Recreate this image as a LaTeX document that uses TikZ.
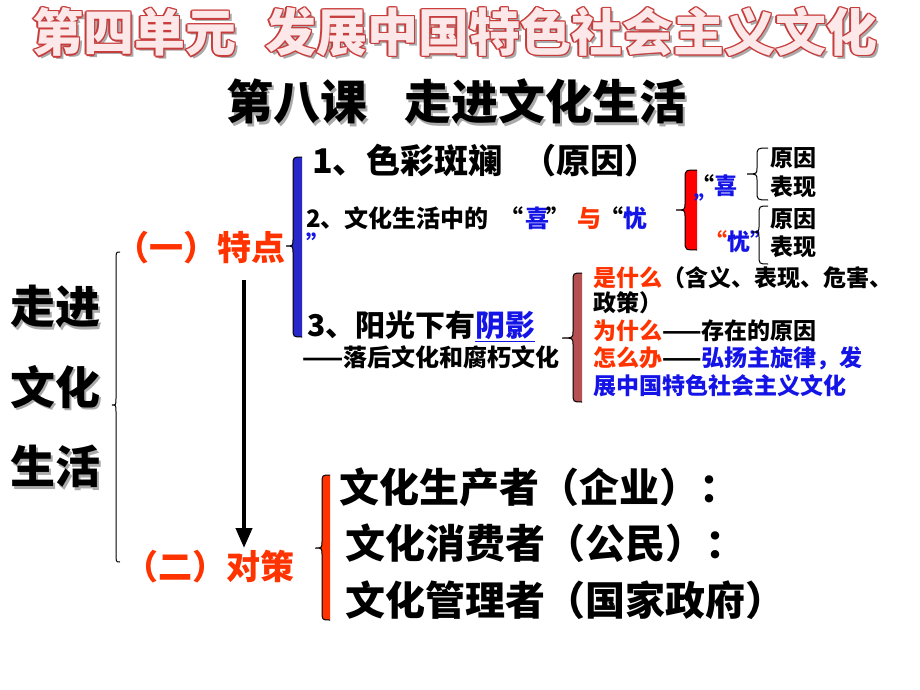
\documentclass[tikz,border=0pt]{standalone}
\usepackage{fontspec}
\setmainfont{Noto Sans CJK SC}
\usepackage{tikz}
\usetikzlibrary{arrows.meta}
\definecolor{hotred}{RGB}{255,51,0}
\definecolor{qblue}{RGB}{20,20,230}
\definecolor{braceblue}{RGB}{40,40,200}
\definecolor{bracered}{RGB}{255,0,0}
\definecolor{bracebrown}{RGB}{180,80,80}
\definecolor{titlered}{RGB}{200,60,60}
\definecolor{titlepink}{RGB}{252,232,232}
\definecolor{shadowgray}{RGB}{170,170,170}

% text with a grey drop shadow
\newcommand{\shadowed}[1]{\rlap{\hspace{2.5pt}\raisebox{-2.5pt}{\textcolor{shadowgray}{#1}}}#1}
% hollow title letters: red outline, pale fill, grey shadow
\newcommand{\hollow}[1]{%
  \rlap{\hspace{3pt}\raisebox{-3pt}{\textcolor{shadowgray}{#1}}}%
  \rlap{\hspace{-1.3pt}\textcolor{titlered}{#1}}%
  \rlap{\hspace{1.3pt}\textcolor{titlered}{#1}}%
  \rlap{\raisebox{1.3pt}{\textcolor{titlered}{#1}}}%
  \rlap{\raisebox{-1.3pt}{\textcolor{titlered}{#1}}}%
  \rlap{\hspace{-0.9pt}\raisebox{0.9pt}{\textcolor{titlered}{#1}}}%
  \rlap{\hspace{0.9pt}\raisebox{0.9pt}{\textcolor{titlered}{#1}}}%
  \rlap{\hspace{-0.9pt}\raisebox{-0.9pt}{\textcolor{titlered}{#1}}}%
  \rlap{\hspace{0.9pt}\raisebox{-0.9pt}{\textcolor{titlered}{#1}}}%
  \textcolor{titlepink}{#1}}
% curly brace: tip x, body x, end x, top y, tip y, bottom y, fill
\newcommand{\curlybrace}[7]{%
  \fill[#7] (#3,#4) .. controls (#2,#4) .. (#2,{#4+9}) -- (#2,{#5-7}) .. controls (#2,#5) .. (#1,#5)
    .. controls (#2,#5) .. (#2,{#5+7}) -- (#2,{#6-9}) .. controls (#2,#6) .. (#3,#6) -- cycle;
  \draw[brace line] (#3,#4) .. controls (#2,#4) .. (#2,{#4+9}) -- (#2,{#5-7}) .. controls (#2,#5) .. (#1,#5)
    .. controls (#2,#5) .. (#2,{#5+7}) -- (#2,{#6-9}) .. controls (#2,#6) .. (#3,#6);
}

\begin{document}
\begin{tikzpicture}[x=1pt, y=-1pt,
    every node/.style={inner sep=0pt, anchor=west},
    fs/.style={font=\fontsize{#1}{#1}\selectfont\bfseries},
    brace line/.style={line width=1pt, black},
    down arrow/.style={line width=4pt, -{Triangle[width=16pt,length=20pt]}}]
  \useasboundingbox (0,0) rectangle (920,690);

  % titles
  \node[fs=51] (unit) at (32,33) {\hollow{第四单元}};
  \node[fs=51] (unit title) at (265,33) {\hollow{发展中国特色社会主义文化}};
  \node[fs=47] (lesson) at (226,103) {\shadowed{第八课}};
  \node[fs=47] (lesson title) at (404,103) {\shadowed{走进文化生活}};

  % left column
  \node[fs=45] (zoujin) at (10,308) {\shadowed{走进}};
  \node[fs=45] (wenhua) at (10,388) {\shadowed{文化}};
  \node[fs=45] (shenghuo) at (10,468) {\shadowed{生活}};
  \curlybrace{112}{116}{120}{252}{405}{562}{fill=none}

  \node[fs=34, text=hotred] (tedian) at (115,248) {（一）特点};
  \node[fs=34, text=hotred] (duice) at (124,567) {（二）对策};
  \coordinate (arrow top) at (244,280);
  \coordinate (arrow tip) at (244,548);
  \draw[down arrow] (arrow top) -- (arrow tip);

  % features
  \curlybrace{286}{293}{302}{157}{246}{337}{fill=braceblue}
  \node[fs=34] (item one) at (312,161) {1、色彩斑斓\hspace{20pt}（原因）};
  \node[fs=24] (item two) at (306,218) {2、文化生活中的\hspace{11pt}“\hspace{2pt}\textcolor{qblue}{喜}\hspace{-3pt}”\hspace{7pt}\textcolor{hotred}{与}\hspace{-2pt}“\textcolor{qblue}{忧}};
  \node[fs=24, text=qblue] (item two end) at (306,243) {”};
  \node[fs=30] (item three) at (307,326) {3、阳光下有\textcolor{qblue}{\underline{阴影}}};
  \node[fs=24] (item three note) at (302,357) {——落后文化和腐朽文化};

  % joy and worry
  \curlybrace{676}{685}{697}{170}{210}{250}{fill=bracered}
  \node[fs=23] (xi) at (691,186) {“\textcolor{qblue}{喜}};
  \node[fs=23, text=qblue] (xi end) at (694,204) {”};
  \node[fs=23, text=qblue] (you) at (704,242) {\textcolor{hotred}{“}忧”};
  \curlybrace{747}{757}{768}{148}{174}{200}{fill=none}
  \curlybrace{752}{759}{768}{206}{232}{264}{fill=none}
  \node[fs=23] (xi cause) at (770,158) {原因};
  \node[fs=23] (xi show) at (770,187) {表现};
  \node[fs=23] (you cause) at (770,219) {原因};
  \node[fs=23] (you show) at (770,247) {表现};

  % shadow culture
  \curlybrace{562}{573}{582}{273}{338}{402}{fill=bracebrown}
  \node[fs=23] (what) at (593,278) {\textcolor{hotred}{是什么}（含义、表现、危害、};
  \node[fs=23] (what more) at (593,303) {政策）};
  \node[fs=23] (why) at (593,331) {\textcolor{hotred}{为什么}——存在的原因};
  \node[fs=23] (how) at (593,358) {\textcolor{hotred}{怎么办}——\textcolor{qblue}{弘扬主旋律，发}};
  \node[fs=23, text=qblue] (how more) at (593,386) {展中国特色社会主义文化};

  % measures
  \curlybrace{315}{322}{330}{475}{548}{620}{fill=hotred}
  \node[fs=40] (producer) at (339,487) {文化生产者（企业）：};
  \node[fs=40] (consumer) at (345,543) {文化消费者（公民）：};
  \node[fs=40] (manager) at (345,600) {文化管理者（国家政府）};
\end{tikzpicture}
\end{document}
